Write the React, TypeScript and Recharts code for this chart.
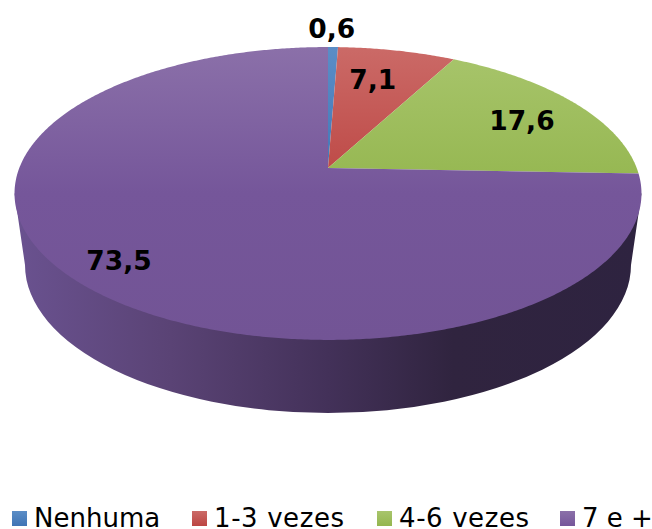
import { Legend, Pie, PieChart } from "recharts";

const categories = ["Nenhuma", "1-3 vezes", "4-6 vezes", "7 e +"];
const values = [0.6, 7.1, 17.6, 73.5];
const valueLabels = ["0,6", "7,1", "17,6", "73,5"];
const sliceTops = ["#5b8dc6", "#cb6a67", "#a8c56c", "#8b70a9"];
const sliceBottoms = ["#3f74b5", "#bc4542", "#94b64f", "#75569a"];

const data = categories.map((name, i) => ({ name, value: values[i], fill: `url(#face${i})` }));

const FONT = "'DejaVu Sans', Verdana, sans-serif";
const CX = 328;
const CY = 168;
const RADIUS = 308.7;
// the tilted disc: C is the perspective term, SQUASH the vertical foreshortening
const C = 0.174;
const SQUASH = 142 / RADIUS;
const labelRadius = [1.19, 0.72, 0.773, 0.844];
const labelNudgeX = [-2, -7, 0, 0];
const labelNudgeY = [0, 0, 4, 0];
const legendX = [12, 192, 377, 560];
const legendSpacing = [0, 0.6, 0.6, 0];

function project(cx: number, cy: number, r: number, deg: number, f = 1) {
  const u = Math.cos((deg * Math.PI) / 180) * f;
  const v = Math.sin((deg * Math.PI) / 180) * f;
  const w = 1 + C * v;
  return { x: cx + (r * u) / w, y: cy - (r * SQUASH * v) / w };
}

function Slice(props: any) {
  const { cx, cy, outerRadius, startAngle, endAngle, fill } = props;
  const steps = Math.max(2, Math.ceil(Math.abs(endAngle - startAngle) * 2));
  let d = `M${cx},${cy}`;
  for (let i = 0; i <= steps; i++) {
    const p = project(cx, cy, outerRadius, startAngle + ((endAngle - startAngle) * i) / steps);
    d += `L${p.x},${p.y}`;
  }
  d += "Z";
  const isLast = props.name === categories[categories.length - 1];
  // side wall belongs to the big slice, it is the only one that reaches the front
  const wallTop = cy + 25.5;
  const halfTop = outerRadius / Math.sqrt(1 - C * C);
  return (
    <g>
      {isLast && (
        <path
          d={`M${cx - halfTop},${wallTop} L${cx - 303},${cy + 97} A303,148 0 0 0 ${cx + 303},${cy + 97} L${cx + halfTop},${wallTop} Z`}
          fill="url(#wall)"
        />
      )}
      <path d={d} fill={fill} stroke="none" />
    </g>
  );
}

function ValueLabel(props: any) {
  const { cx, cy, outerRadius, midAngle, index } = props;
  const p = project(cx, cy, outerRadius, midAngle, labelRadius[index]);
  return (
    <text
      x={p.x + labelNudgeX[index]}
      y={p.y + labelNudgeY[index]}
      textAnchor="middle"
      dominantBaseline="central"
      fontFamily={FONT}
      fontWeight="bold"
      fontSize={26.5}
      fill="#000"
    >
      {valueLabels[index]}
    </text>
  );
}

function LegendRow() {
  return (
    <div style={{ position: "relative", width: 652, height: 29, fontFamily: FONT, fontSize: 26, color: "#000" }}>
      {categories.map((name, i) => (
        <div key={name} style={{ position: "absolute", left: legendX[i], top: 0, whiteSpace: "nowrap", lineHeight: "29px" }}>
          <span
            style={{
              position: "absolute",
              left: 0,
              top: 7,
              width: 15,
              height: 15,
              background: `linear-gradient(${sliceTops[i]}, ${sliceBottoms[i]})`,
            }}
          />
          <span style={{ marginLeft: 22, letterSpacing: legendSpacing[i] }}>{name}</span>
        </div>
      ))}
    </div>
  );
}

export default function App() {
  return (
    <div style={{ position: "absolute", left: 0, top: 0, width: 652, height: 529, overflow: "hidden", background: "#fff" }}>
      <PieChart width={652} height={529} margin={{ top: 0, right: 0, bottom: 0, left: 0 }}>
        <defs>
          {categories.map((name, i) => (
            <linearGradient key={name} id={`face${i}`} gradientUnits="userSpaceOnUse" x1="0" y1="47" x2="0" y2="340">
              <stop offset="0" stopColor={sliceTops[i]} />
              <stop offset="0.5" stopColor={sliceBottoms[i]} />
              <stop offset="1" stopColor={i === 3 ? "#725495" : sliceBottoms[i]} />
            </linearGradient>
          ))}
          <linearGradient id="wall" gradientUnits="userSpaceOnUse" x1="14" y1="0" x2="641" y2="0">
            <stop offset="0" stopColor="#6a5290" />
            <stop offset="0.25" stopColor="#5a4375" />
            <stop offset="0.5" stopColor="#433159" />
            <stop offset="0.7" stopColor="#30243f" />
            <stop offset="1" stopColor="#2e2340" />
          </linearGradient>
        </defs>
        <Pie
          data={data}
          dataKey="value"
          nameKey="name"
          cx={CX}
          cy={CY}
          innerRadius={0}
          outerRadius={RADIUS}
          startAngle={90}
          endAngle={-270}
          paddingAngle={0}
          stroke="none"
          shape={Slice}
          label={ValueLabel}
          labelLine={false}
          isAnimationActive={false}
        />
        <Legend content={<LegendRow />} wrapperStyle={{ left: 0, top: 504, width: 652, bottom: "auto" }} />
      </PieChart>
    </div>
  );
}
